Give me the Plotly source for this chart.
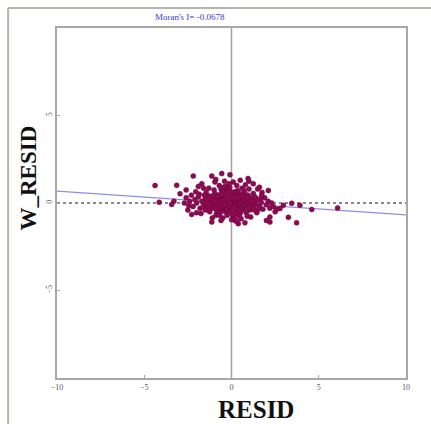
import plotly.graph_objects as go

# Moran scatter: RESID (x) vs spatially lagged W_RESID (y)
moran_i = -0.0678
title_text = "Moran's I= -0.0678"
x_ticks = [-10, -5, 0, 5, 10]
y_ticks = [-5, 0, 5]

resid = [
    -0.1, 0.2, -0.3, 0.4, -0.5, 0.1, -0.2, 0.6, -0.7, 0.3, 0.0, -0.4, 0.5, -0.6, 0.8, -0.9, 0.7, -0.15, 0.25, -1.0,
    1.0, -0.8, 0.9, -0.35, 0.45, -1.2, 1.1, -0.05, 0.15, -0.55, 0.65, -1.1, 1.2, -0.25, 0.35, -1.3, 1.3, -0.75, 0.85, -0.45,
    0.55, -0.65, 0.75, -1.4, 1.4, -0.95, 0.95, -0.2, 0.1, -1.5, 1.5, -0.85, 1.05, -1.6, 1.6, -0.1, 0.4, -0.6, 0.6, -1.7,
    1.7, -1.25, 1.25, -1.8, 1.8, -0.35, 0.3, -0.9, 0.9, -1.9, 1.9, -1.45, 1.45, -2.0, 2.0,
    0.05, -0.25, 0.3, -0.45, 0.15, -0.05, 0.45, -0.7, 0.7, -0.3, 0.2, -0.5, 0.0, 0.35, -0.15, 0.5, -0.4, -0.85, 0.85, -1.05,
    1.05, -0.6, 0.6, -0.1, 0.25, -1.15, 1.15, -0.3, 0.5, -0.7, 0.7, -1.35, 1.35, -1.55, 1.55, -1.65, 1.65, -2.1, 2.1, -2.2,
    -2.3, -2.4, -2.5, -2.6, 2.2, 2.3, -2.05, -1.75, 1.75, -1.0, 1.0, -0.5, 0.55, -1.3, 1.1, 0.0, -0.15, 0.1, -0.7, 0.8,
    -1.6, 1.5, -1.1, 0.2, -0.4, 0.5, -0.95, 1.0, -2.0, -2.7, 2.5,
    -0.2, 0.1, -0.55, 0.4, -0.8, 0.65, -1.2, 0.95, -0.35, 0.3, -0.05, -0.65, 0.75, -1.5, 1.3, -1.85, 0.05, -0.25, 0.2, -0.45,
    -0.12, 0.18, -0.42, 0.38, -0.62, 0.58, -0.82, 0.78, -1.02, 0.98, -0.28, 0.22, -0.48, 0.48, -0.72, 0.68, -0.92, 0.88, -1.22, 1.18,
    -0.08, 0.12, -0.38, 0.32, -0.58, 0.52, -0.78, 0.72, -1.08, 1.02, -0.18, 0.28, -1.32, 1.28, -1.42, 1.12, -0.52, 0.42, -0.88, 0.62,
    -4.38, -2.19, -1.13, -0.56, -0.09, -3.14, -2.95, -1.9, -4.14, -3.43, -2.28, -1.13, 0.39, 0.77, 2.11, 2.2, 2.2, 3.26, 3.73, 3.45,
    3.92, 4.6, 6.08, 2.97, 2.59, 1.25, 1.73, -3.3, -2.6, 2.0, 2.78, 2.4, 0.3, -0.6, -1.7, 1.6, -2.45, -0.9, 0.95,
]
w_resid = [
    0.05, -0.1, 0.2, 0.15, -0.1, 0.3, -0.3, -0.2, 0.1, 0.4, -0.15, 0.35, 0.05, -0.35, 0.2, 0.25, -0.4, 0.5, -0.45, -0.05,
    0.0, -0.2, -0.15, -0.5, 0.55, 0.15, 0.3, 0.65, -0.6, 0.6, 0.45, -0.3, -0.25, -0.7, 0.7, 0.4, 0.1, 0.45, -0.55, -0.15,
    0.25, -0.55, 0.6, -0.15, -0.05, 0.55, 0.45, 0.8, -0.8, 0.25, 0.2, -0.45, -0.4, -0.05, -0.2, 0.9, -0.75, 0.8, 0.85, 0.1,
    0.05, -0.5, 0.55, -0.3, -0.35, 0.95, 1.0, -0.7, -0.75, 0.35, 0.3, 0.6, -0.55, 0.0, -0.1,
    0.1, -0.05, 0.05, 0.1, 0.2, -0.35, -0.3, -0.1, 0.1, 0.0, 0.5, 0.3, 0.4, -0.2, -0.2, 0.35, -0.3, 0.0, 0.0, 0.3,
    0.15, 0.2, -0.05, -0.5, 0.25, 0.0, -0.1, 0.7, -0.6, -0.7, 0.75, -0.35, 0.35, 0.45, -0.35, -0.25, 0.25, 0.2, 0.1, -0.2,
    0.45, 0.1, -0.4, 0.3, -0.3, 0.0, 0.65, -0.6, 0.6, 0.75, 0.8, -0.85, -0.9, 0.85, -0.8, -0.95, 1.1, 1.2, 1.0, 1.05,
    0.85, 0.8, -0.85, -1.0, 1.25, 1.3, 1.2, 1.25, -0.55, 0.0, -0.5,
    0.15, 0.25, -0.25, -0.05, 0.35, -0.25, 0.05, 0.1, 0.25, -0.35, 0.45, 0.05, -0.15, -0.4, -0.4, 0.5, -0.65, 0.6, 0.65, 0.9,
    0.22, -0.22, 0.02, 0.28, -0.18, 0.12, 0.38, -0.12, 0.18, -0.28, -0.42, 0.42, 0.48, -0.08, -0.02, 0.18, 0.08, 0.32, -0.12, 0.02,
    -0.02, 0.32, -0.08, -0.38, 0.52, 0.02, -0.28, 0.22, 0.42, -0.22, 0.62, -0.58, 0.28, -0.18, 0.02, 0.08, 0.12, -0.48, -0.32, 0.38,
    1.0, 1.54, 1.54, 1.68, 1.62, 1.01, 0.53, 0.95, 0.04, -0.08, -0.65, -1.09, -1.18, -1.13, 0.72, -0.8, -1.09, -0.82, -1.13, -0.02,
    -0.13, -0.37, -0.28, -0.13, -0.35, 1.1, 0.44, 0.1, 0.75, -1.0, -0.32, -0.2, -1.05, -1.0, 1.1, 0.9, -0.15, 1.35, 1.4,
]

fig = go.Figure()

# fitted Moran line (slope = Moran's I)
line_x = [x_ticks[0], x_ticks[-1]]
line_y = [moran_i * v for v in line_x]
fig.add_trace(go.Scatter(x=line_x, y=line_y, mode="lines",
                         line=dict(color="#8c8cf0", width=1.2), hoverinfo="skip"))

fig.add_trace(go.Scatter(x=resid, y=w_resid, mode="markers",
                         marker=dict(size=5, color="#8e0b52",
                                     line=dict(width=0.5, color="#6d0640"))))

# zero reference lines
fig.add_shape(type="line", xref="x", yref="y", x0=0, x1=0, y0=-10, y1=10,
              line=dict(color="#a0a0a0", width=1.5), layer="below")
fig.add_shape(type="line", xref="x", yref="y", x0=-10, x1=10, y0=0, y1=0,
              line=dict(color="#606060", width=1.5, dash="dot"), layer="below")

# outer window frame
fig.add_shape(type="line", xref="paper", yref="paper", x0=-0.14, x1=1.08, y0=1.057, y1=1.057,
              line=dict(color="#b4b4ac", width=2))
fig.add_shape(type="line", xref="paper", yref="paper", x0=-0.14, x1=-0.14, y0=1.057, y1=-0.14,
              line=dict(color="#b4b4ac", width=2))

fig.add_annotation(text=title_text, xref="paper", yref="paper", x=0.381, y=1.031,
                   xanchor="center", yanchor="middle", showarrow=False,
                   font=dict(family="Liberation Serif", size=9, color="#3a3ad0"))
fig.add_annotation(text="<b>RESID</b>", xref="paper", yref="paper", x=0.57, y=-0.09,
                   xanchor="center", yanchor="middle", showarrow=False,
                   font=dict(family="Liberation Serif", size=25, color="#111111"))
fig.add_annotation(text="<b>W_RESID</b>", xref="paper", yref="paper", x=-0.083, y=0.57,
                   xanchor="center", yanchor="middle", textangle=-90, showarrow=False,
                   font=dict(family="Liberation Serif", size=23, color="#111111"))

axis_common = dict(range=[-10, 10], showgrid=False, zeroline=False,
                   showline=True, mirror=True, linecolor="#a8a8a8", linewidth=2,
                   ticks="inside", ticklen=3, tickcolor="#a8a8a8",
                   tickfont=dict(family="Liberation Serif", size=8, color="#555555"))

fig.update_layout(
    width=431, height=424,
    margin=dict(l=57, r=25, t=28, b=46),
    paper_bgcolor="white", plot_bgcolor="white",
    showlegend=False,
    xaxis=dict(tickvals=x_ticks, **axis_common),
    yaxis=dict(tickvals=y_ticks, tickangle=-90, **axis_common),
)

fig.write_html("out.html")
